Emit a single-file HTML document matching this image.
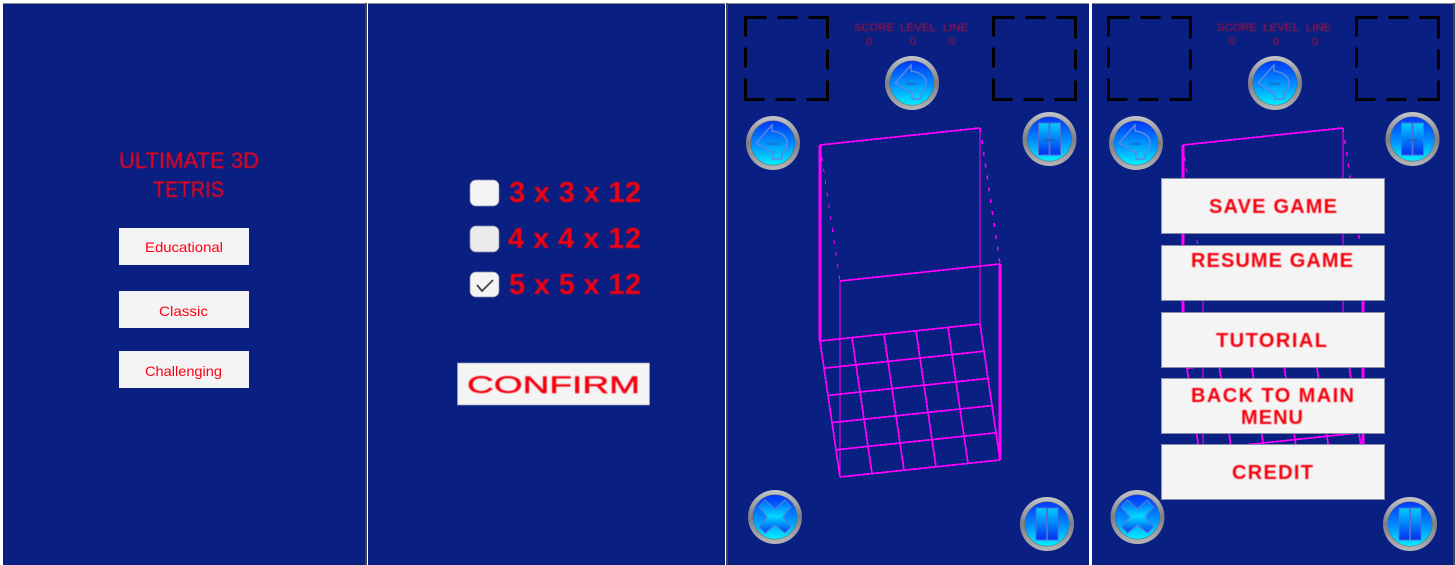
<!DOCTYPE html>
<html lang="en">
<head>
<meta charset="utf-8">
<title>Ultimate 3D Tetris screens</title>
<style>
html,body{margin:0;padding:0;width:1455px;height:565px;overflow:hidden;background:#fff}
svg{display:block;font-family:"Liberation Sans",sans-serif}
</style>
</head>
<body>
<svg id="stage" xmlns="http://www.w3.org/2000/svg" width="1455" height="565" viewBox="0 0 1455 565">
<defs>
<linearGradient id="ringGrad" x1="0" y1="0" x2="0" y2="1"><stop offset="0" stop-color="#c4c6ca"/><stop offset=".5" stop-color="#7c7e84"/><stop offset="1" stop-color="#b4b6b8"/></linearGradient>
<linearGradient id="discGrad" x1="0" y1="0" x2="0" y2="1"><stop offset="0" stop-color="#0038f8"/><stop offset=".55" stop-color="#0090ff"/><stop offset="1" stop-color="#00f0ff"/></linearGradient>
<linearGradient id="glyphGrad" x1="0" y1="0" x2="0" y2="1"><stop offset="0" stop-color="#0048f8"/><stop offset="1" stop-color="#00d8ff"/></linearGradient>
<linearGradient id="crossGrad" x1="0" y1="0" x2="0" y2="1"><stop offset="0" stop-color="#0060ff"/><stop offset=".5" stop-color="#00d8ff"/><stop offset="1" stop-color="#0040f0"/></linearGradient>
<linearGradient id="pauseGrad" x1="0" y1="0" x2="0" y2="1"><stop offset="0" stop-color="#00d0ff"/><stop offset="1" stop-color="#0030f0"/></linearGradient>
<filter id="soft" x="-5%" y="-20%" width="110%" height="140%"><feGaussianBlur stdDeviation="0.45"/></filter>
<g id="disc"><circle r="27" fill="url(#ringGrad)"/><circle r="22.500" fill="#60646c"/><circle r="22" fill="url(#discGrad)"/></g>
<g id="back-glyph"><use href="#disc"/><path d="M-17 0 L-1 -18 L-1 -12 C8 -11 15 -6 14 0 C14 6 11 9 9 11 L9 16 L0 16 L0 9 L-2 9 Z" fill="url(#glyphGrad)" stroke="#5a88e4" stroke-width="1.500"/></g>
<g id="pause-glyph"><use href="#disc"/><rect x="-11" y="-16" width="10.500" height="32" fill="url(#pauseGrad)" stroke="#4a70d8"/><rect x="0.500" y="-16" width="10.500" height="32" fill="url(#pauseGrad)" stroke="#4a70d8"/></g>
<g id="close-glyph"><use href="#disc"/><path d="M-10 -17 L0 -8 L10 -17 L16 -10 L8 0 L16 10 L10 16 L0 8 L-10 16 L-16 10 L-8 0 L-16 -10 Z" fill="url(#crossGrad)" stroke="#4a7ce0" stroke-width="1.200"/></g>
</defs>

<!-- panels -->
<rect x="3" y="3" width="363" height="1" fill="#8a8a8a"/>
<rect x="368" y="3" width="357" height="1" fill="#8a8a8a"/>
<rect x="728" y="3" width="361" height="1" fill="#8a8a8a"/>
<rect x="1092" y="3" width="361" height="1" fill="#8a8a8a"/>
<rect x="365" y="3" width="2" height="562" fill="#444"/>
<rect x="726" y="3" width="2" height="562" fill="#444"/>
<rect x="1453" y="3" width="2" height="562" fill="#444"/>
<rect x="3" y="4" width="362" height="561" fill="#0a1f82"/>
<rect x="368" y="4" width="357" height="561" fill="#0a1f82"/>
<rect x="728" y="4" width="361" height="561" fill="#0a1f82"/>
<rect x="1092" y="4" width="361" height="561" fill="#0a1f82"/>

<!-- screen 1 -->
<g filter="url(#soft)">
<text x="119" y="168" font-size="22" fill="#ff0010" textLength="140" lengthAdjust="spacingAndGlyphs">ULTIMATE 3D</text>
<text x="153" y="197" font-size="22" fill="#ff0010" textLength="71" lengthAdjust="spacingAndGlyphs">TETRIS</text>
</g>
<g>
<rect x="119" y="228" width="130" height="37" fill="#f4f4f5"/>
<text x="184" y="252" font-size="14" fill="#ff0010" text-anchor="middle" textLength="78" lengthAdjust="spacingAndGlyphs">Educational</text>
</g>
<g>
<rect x="119" y="291" width="130" height="37" fill="#f4f4f5"/>
<text x="183.500" y="316" font-size="14" fill="#ff0010" text-anchor="middle" textLength="49" lengthAdjust="spacingAndGlyphs">Classic</text>
</g>
<g>
<rect x="119" y="351" width="130" height="37" fill="#f4f4f5"/>
<text x="183.500" y="376" font-size="14" fill="#ff0010" text-anchor="middle" textLength="77" lengthAdjust="spacingAndGlyphs">Challenging</text>
</g>

<!-- screen 2 -->
<rect x="470" y="180" width="29" height="26" rx="6" fill="#f4f4f5" stroke="#8a8fa8" stroke-width=".7"/>
<rect x="470" y="226" width="29" height="26" rx="6" fill="#ebebeb" stroke="#8a8fa8" stroke-width=".7"/>
<g>
<rect x="470" y="272" width="29" height="25" rx="6" fill="#f4f4f5" stroke="#8a8fa8" stroke-width=".7"/>
<path d="M477 285 L482 291 L493 280" fill="none" stroke="#444" stroke-width="1.800"/>
</g>
<g filter="url(#soft)">
<text x="509" y="202" font-size="29" font-weight="700" fill="#f5000f" textLength="132" lengthAdjust="spacing">3 x 3 x 12</text>
<text x="508" y="248" font-size="29" font-weight="700" fill="#f5000f" textLength="133" lengthAdjust="spacing">4 x 4 x 12</text>
<text x="509" y="294" font-size="29" font-weight="700" fill="#f5000f" textLength="132" lengthAdjust="spacing">5 x 5 x 12</text>
</g>
<g>
<rect x="457.500" y="363" width="192" height="42" fill="#f4f4f5" stroke="#9aa0b8" stroke-width=".7"/>
<text x="467" y="393" font-size="24" fill="#f5000f" stroke="#f5000f" stroke-width=".4" filter="url(#soft)" textLength="173" lengthAdjust="spacingAndGlyphs">CONFIRM</text>
</g>

<!-- wireframes drawn by script -->
<g id="wireframes"></g>

<!-- screen 3 hud -->
<rect x="745.500" y="17.500" width="82" height="82" fill="none" stroke="#000" stroke-width="3" stroke-dasharray="21 11 20 11 40 11 20 11 40 11 20 11 40 11 20 11 19"/>
<rect x="993.500" y="17.500" width="82" height="82" fill="none" stroke="#000" stroke-width="3" stroke-dasharray="21 11 20 11 40 11 20 11 40 11 20 11 40 11 20 11 19"/>
<g filter="url(#soft)" font-size="11" fill="#a81238">
<text x="854" y="31" textLength="40" lengthAdjust="spacingAndGlyphs">SCORE</text>
<text x="900" y="31" textLength="36" lengthAdjust="spacingAndGlyphs">LEVEL</text>
<text x="943" y="31" textLength="25" lengthAdjust="spacingAndGlyphs">LINE</text>
<text x="869" y="45" text-anchor="middle">0</text>
<text x="913" y="45" text-anchor="middle">0</text>
<text x="952" y="45" text-anchor="middle">0</text>
</g>
<g transform="translate(912 83)"><use href="#back-glyph"/><text x="0" y="2" font-size="4" fill="#2a4a9a" text-anchor="middle">Button</text></g>
<g transform="translate(773 143)"><use href="#back-glyph"/><text x="0" y="2" font-size="4" fill="#2a4a9a" text-anchor="middle">Button</text></g>
<g transform="translate(1049.500 139)"><use href="#pause-glyph"/><text x="0" y="2" font-size="4" fill="#2a4a9a" text-anchor="middle">Button</text></g>
<g transform="translate(775 517)"><use href="#close-glyph"/></g>
<g transform="translate(1047 524)"><use href="#pause-glyph"/></g>

<!-- screen 4 hud -->
<rect x="1108.500" y="17.500" width="82" height="82" fill="none" stroke="#000" stroke-width="3" stroke-dasharray="21 11 20 11 40 11 20 11 40 11 20 11 40 11 20 11 19"/>
<rect x="1356.500" y="17.500" width="82" height="82" fill="none" stroke="#000" stroke-width="3" stroke-dasharray="21 11 20 11 40 11 20 11 40 11 20 11 40 11 20 11 19"/>
<g filter="url(#soft)" font-size="11" fill="#a81238">
<text x="1217" y="31" textLength="40" lengthAdjust="spacingAndGlyphs">SCORE</text>
<text x="1263" y="31" textLength="36" lengthAdjust="spacingAndGlyphs">LEVEL</text>
<text x="1306" y="31" textLength="25" lengthAdjust="spacingAndGlyphs">LINE</text>
<text x="1232" y="45" text-anchor="middle">0</text>
<text x="1276" y="45" text-anchor="middle">0</text>
<text x="1315" y="45" text-anchor="middle">0</text>
</g>
<g transform="translate(1275 83)"><use href="#back-glyph"/><text x="0" y="2" font-size="4" fill="#2a4a9a" text-anchor="middle">Button</text></g>
<g transform="translate(1136 143)"><use href="#back-glyph"/><text x="0" y="2" font-size="4" fill="#2a4a9a" text-anchor="middle">Button</text></g>
<g transform="translate(1412.500 139)"><use href="#pause-glyph"/><text x="0" y="2" font-size="4" fill="#2a4a9a" text-anchor="middle">Button</text></g>
<g transform="translate(1137.500 517)"><use href="#close-glyph"/></g>
<g transform="translate(1410 524)"><use href="#pause-glyph"/></g>

<!-- pause menu -->
<g font-size="20" font-weight="700" fill="#f5000f">
<g>
<rect x="1161.500" y="178.500" width="223" height="55" fill="#f4f4f5" stroke="#8a8fa8"/>
<text x="1209" y="213" filter="url(#soft)" textLength="128" lengthAdjust="spacing">SAVE GAME</text>
</g>
<g>
<rect x="1161.500" y="245.500" width="223" height="55" fill="#f4f4f5" stroke="#8a8fa8"/>
<text x="1191" y="267" filter="url(#soft)" textLength="162" lengthAdjust="spacing">RESUME GAME</text>
</g>
<g>
<rect x="1161.500" y="312.500" width="223" height="55" fill="#f4f4f5" stroke="#8a8fa8"/>
<text x="1216" y="347" filter="url(#soft)" textLength="111" lengthAdjust="spacing">TUTORIAL</text>
</g>
<g>
<rect x="1161.500" y="378.500" width="223" height="55" fill="#f4f4f5" stroke="#8a8fa8"/>
<text x="1191" y="402" filter="url(#soft)" textLength="163" lengthAdjust="spacing">BACK TO MAIN</text>
<text x="1241" y="424" filter="url(#soft)" textLength="62" lengthAdjust="spacing">MENU</text>
</g>
<g>
<rect x="1161.500" y="444.500" width="223" height="55" fill="#f4f4f5" stroke="#8a8fa8"/>
<text x="1232" y="479" filter="url(#soft)" textLength="81" lengthAdjust="spacing">CREDIT</text>
</g>
</g>
</svg>

<script>
var boardCells = [5, 5, 12];
var boardOffsets = [0, 363];

function projectX(u, v, off) {
  return 820 + off + u * 160 / boardCells[0] + v * 20 / boardCells[1];
}
function projectY(u, v, h) {
  return 341 - u * 17 / boardCells[0] + v * 136 / boardCells[1] - h * 196 / boardCells[2];
}
var wireRoot = document.getElementById('wireframes');
function wireLine(off, a, b, width, dash) {
  var ln = document.createElementNS('http://www.w3.org/2000/svg', 'line');
  
  
  ln.setAttribute('x1', projectX(a[0], a[1], off));
  ln.setAttribute('y1', projectY(a[0], a[1], a[2]));
  ln.setAttribute('x2', projectX(b[0], b[1], off));
  ln.setAttribute('y2', projectY(b[0], b[1], b[2]));
  ln.setAttribute('stroke', '#ff00ff');
  ln.setAttribute('stroke-width', width);
  ln.setAttribute('shape-rendering', 'crispEdges');
  if (dash) ln.setAttribute('stroke-dasharray', dash);
  wireRoot.appendChild(ln);
}
boardOffsets.forEach(function (off) {
  var nu = boardCells[0], nv = boardCells[1], nh = boardCells[2];
  for (var i = 0; i <= nu; i++) {
    wireLine(off, [i, 0, 0], [i, nv, 0], 1.7);
  }
  for (var j = 0; j <= nv; j++) {
    wireLine(off, [0, j, 0], [nu, j, 0], 1.7);
  }
  wireLine(off, [0, 0, nh], [nu, 0, nh], 1.7);
  wireLine(off, [0, nv, nh], [nu, nv, nh], 1.7);
  wireLine(off, [0, 0, 0], [0, 0, nh], 3);
  wireLine(off, [nu, nv, 0], [nu, nv, nh], 3);
  wireLine(off, [nu, 0, 0], [nu, 0, nh], 1);
  wireLine(off, [0, nv, 0], [0, nv, nh], 1);
  wireLine(off, [0, 0, nh], [0, nv, nh], 1, '4 8');
  wireLine(off, [nu, 0, nh], [nu, nv, nh], 1.5, '4 8');
});
</script>
</body>
</html>
